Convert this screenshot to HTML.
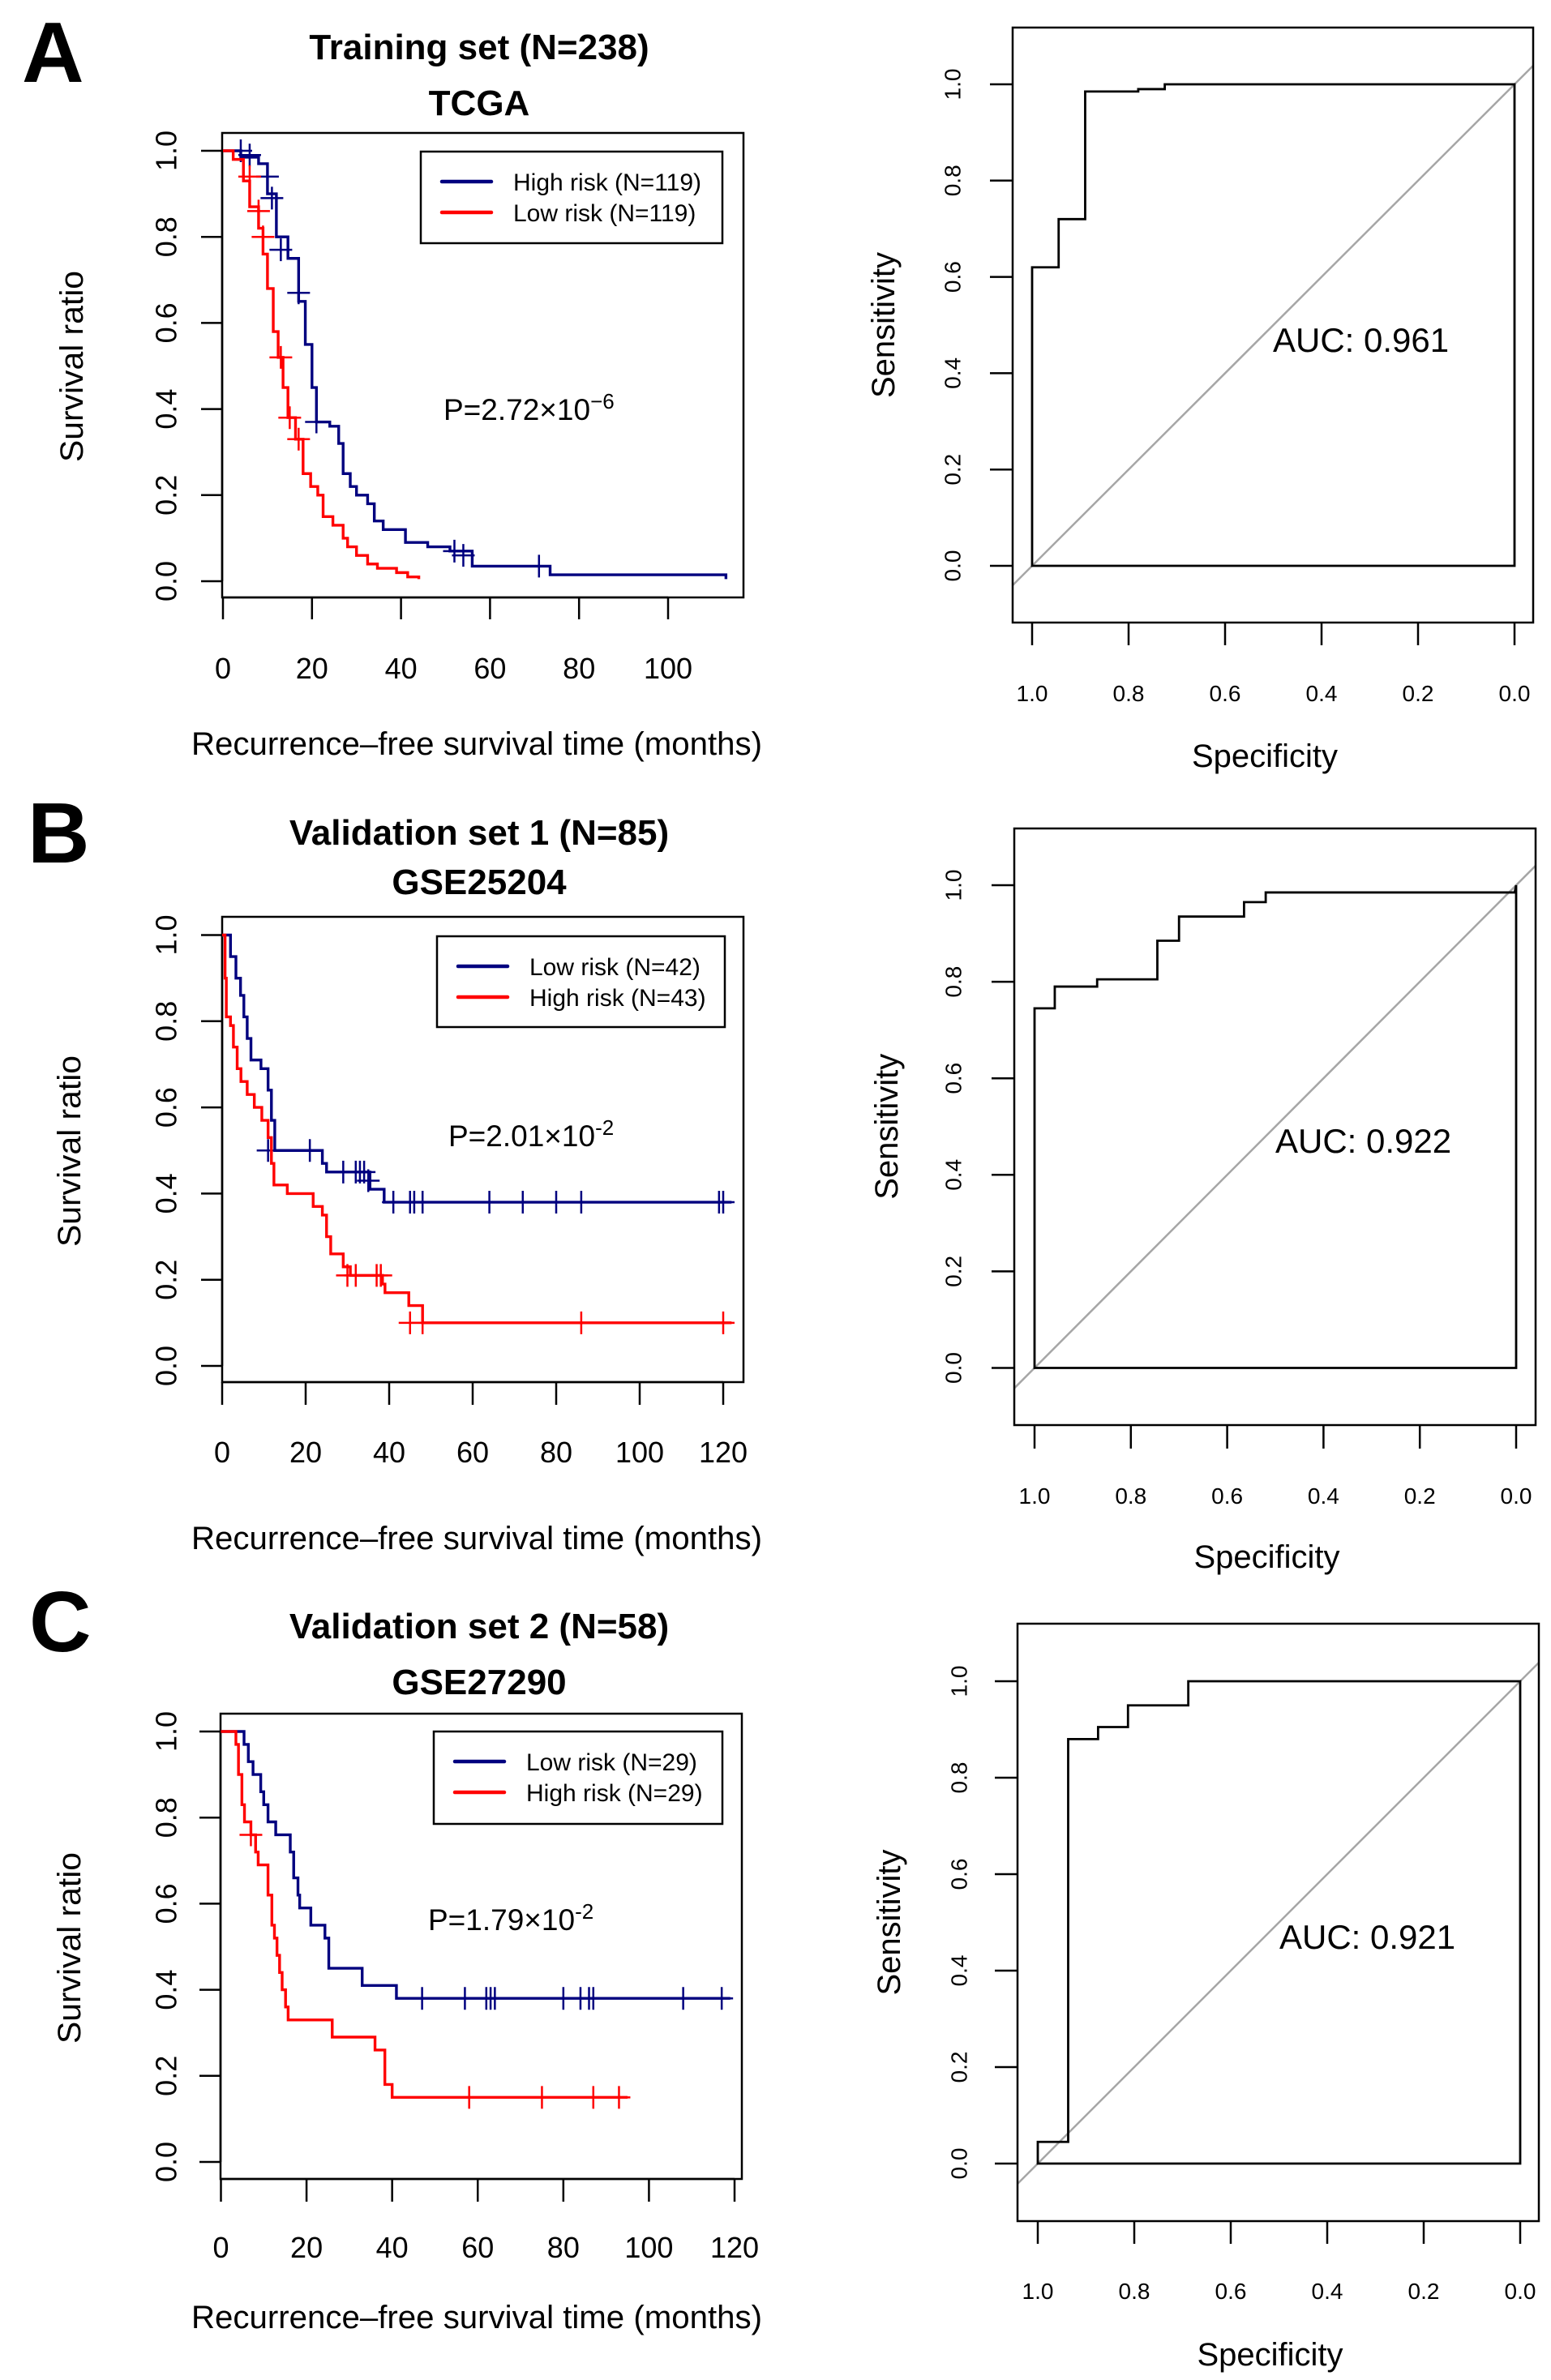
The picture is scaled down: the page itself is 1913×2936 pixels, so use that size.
<!DOCTYPE html>
<html><head><meta charset="utf-8">
<style>
html,body{margin:0;padding:0;background:#fff;}
svg{display:block;font-family:"Liberation Sans",Arial,sans-serif;}
</style></head>
<body>
<svg id="fig" xmlns="http://www.w3.org/2000/svg" width="1913" height="2936" viewBox="0 0 1913 2936">
<rect width="1913" height="2936" fill="#fff"/>
</svg>
<script>
// ---------- Data ----------
const kmA_blueT = [0,4,8,10,12,14.6,17,18.5,20,21,24,26,27,28.6,30,32.5,34,36,41,46,51,56,73.5,113];
const kmA_blueS = [1,0.985,0.97,0.9,0.8,0.75,0.65,0.55,0.45,0.37,0.36,0.32,0.25,0.22,0.2,0.18,0.14,0.12,0.09,0.08,0.07,0.035,0.015,0.005];
const kmA_blueEnd = 113;
const kmA_blueCensT = [4,6,10,11,13,17,21,52,54,71];
const kmA_blueCensS = [1.0,0.99,0.94,0.89,0.77,0.67,0.37,0.07,0.06,0.035];
const kmA_redT = [0,2.3,4.6,6,8,9,10,11.3,12.4,13.5,14.6,16.3,18,19.7,21.3,22.5,24.7,27,28,30,32.5,34.7,39,41.5,44];
const kmA_redS = [1,0.98,0.93,0.87,0.82,0.76,0.68,0.58,0.52,0.45,0.38,0.33,0.25,0.22,0.2,0.15,0.13,0.1,0.08,0.06,0.04,0.03,0.02,0.01,0.005];
const kmA_redEnd = 44;
const kmA_redCensT = [6,8,9,13,15,17];
const kmA_redCensS = [0.94,0.86,0.8,0.52,0.38,0.33];
const kmA_xTicks = [0,20,40,60,80,100];

const kmB_blueT = [0,2,3.3,4.4,5.2,6,6.9,9.3,11,11.8,12.6,24,25,35.4,38.8];
const kmB_blueS = [1,0.95,0.9,0.86,0.81,0.76,0.71,0.69,0.64,0.57,0.5,0.47,0.45,0.41,0.38];
const kmB_blueEnd = 122;
const kmB_blueCensT = [11,21,29,32,33,34,35,41,45,46,48,64,72,80,86,119,120];
const kmB_blueCensS = [0.5,0.5,0.45,0.45,0.45,0.45,0.43,0.38,0.38,0.38,0.38,0.38,0.38,0.38,0.38,0.38,0.38];
const kmB_redT = [0,0.7,1,2,2.7,3.6,4.5,6,7.7,9.5,11,11.8,12.4,15.6,21.8,24,25,26,29,30.7,38.4,39,44.7,48];
const kmB_redS = [1,0.9,0.81,0.79,0.74,0.69,0.66,0.63,0.6,0.57,0.53,0.47,0.42,0.4,0.37,0.35,0.3,0.26,0.23,0.21,0.19,0.17,0.14,0.1];
const kmB_redEnd = 122;
const kmB_redCensT = [30,32,37,38,45,48,86,120];
const kmB_redCensS = [0.21,0.21,0.21,0.21,0.1,0.1,0.1,0.1];
const kmB_xTicks = [0,20,40,60,80,100,120];

const kmC_blueT = [0,5.4,6.4,7.5,9.3,10,11,12.8,16.2,17,18,18.4,21,24.3,25.2,33,41];
const kmC_blueS = [1,0.97,0.93,0.9,0.86,0.83,0.79,0.76,0.72,0.66,0.62,0.59,0.55,0.52,0.45,0.41,0.38];
const kmC_blueEnd = 119;
const kmC_blueCensT = [47,57,62,63,64,80,84,86,87,108,117];
const kmC_blueCensS = [0.38,0.38,0.38,0.38,0.38,0.38,0.38,0.38,0.38,0.38,0.38];
const kmC_redT = [0,3.5,4.1,4.9,5.5,7,8.1,8.7,11,11.9,12.5,13.1,13.7,14.3,15.1,15.7,26,36,38.3,40];
const kmC_redS = [1,0.97,0.9,0.83,0.79,0.76,0.72,0.69,0.62,0.55,0.52,0.48,0.44,0.4,0.36,0.33,0.29,0.26,0.18,0.15];
const kmC_redEnd = 95;
const kmC_redCensT = [7,58,75,87,93];
const kmC_redCensS = [0.76,0.15,0.15,0.15,0.15];
const kmC_xTicks = [0,20,40,60,80,100,120];

const yTicks = [0,0.2,0.4,0.6,0.8,1.0];
const yTickLabels = ["0.0","0.2","0.4","0.6","0.8","1.0"];
const rocXTicks = [1.0,0.8,0.6,0.4,0.2,0.0];
const rocXTickLabels = ["1.0","0.8","0.6","0.4","0.2","0.0"];

const rocA_spec = [1,1,0.945,0.945,0.89,0.89,0.78,0.78,0.725,0.725,0];
const rocA_sens = [0,0.62,0.62,0.72,0.72,0.985,0.985,0.99,0.99,1,1];
const rocB_spec = [1,1,0.958,0.958,0.87,0.87,0.745,0.745,0.7,0.7,0.565,0.565,0.52,0.52,0.003,0];
const rocB_sens = [0,0.745,0.745,0.79,0.79,0.805,0.805,0.885,0.885,0.935,0.935,0.965,0.965,0.985,0.985,1];
const rocC_spec = [1,1,0.937,0.937,0.875,0.875,0.813,0.813,0.688,0.688,0];
const rocC_sens = [0,0.045,0.045,0.88,0.88,0.905,0.905,0.95,0.95,1,1];

// ---------- Drawing helpers ----------
const NS = "http://www.w3.org/2000/svg";
const svg = document.getElementById('fig');
function mk(tag, attrs, parent){
  const e = document.createElementNS(NS, tag);
  for (const k in attrs) e.setAttribute(k, attrs[k]);
  (parent||svg).appendChild(e);
  return e;
}
function txt(s, x, y, size, opts, parent){
  opts = opts||{};
  const t = mk('text', {x:x, y:y, 'font-size':size, fill:'#000', 'text-anchor':opts.anchor||'middle'}, parent);
  if (opts.bold) t.setAttribute('font-weight','bold');
  if (opts.rot) t.setAttribute('transform', 'rotate(-90 '+x+' '+y+')');
  if (opts.len) { t.setAttribute('textLength', opts.len); t.setAttribute('lengthAdjust','spacingAndGlyphs'); }
  if (opts.baseline) t.setAttribute('dominant-baseline', opts.baseline);
  t.textContent = s;
  return t;
}

function drawKM(p){
  const g = mk('g', {});
  
  
  const X = t => p.x0 + t * (p.xMaxPx - p.x0) / p.xMaxVal;
  const Y = s => p.y0 + (p.y1 - p.y0) * s;
  const box = mk('rect', {x:p.L, y:p.T, width:p.R-p.L, height:p.B-p.T, fill:'none', stroke:'#000', 'stroke-width':2.5}, g);
  
  
  const yax = mk('g', {}, g);
  
  
  mk('line', {x1:p.L, x2:p.L, y1:Y(0), y2:Y(1), stroke:'#000', 'stroke-width':2.5}, yax);
  yTicks.forEach((v,i)=>{
    mk('line', {x1:p.L-26, x2:p.L, y1:Y(v), y2:Y(v), stroke:'#000', 'stroke-width':2.5}, yax);
    const tl = txt(yTickLabels[i], 205, Y(v), 36, {rot:true, baseline:'central'}, yax);
    
    
  });
  const xax = mk('g', {}, g);
  
  
  const xt = p.xTicks;
  mk('line', {x1:X(xt[0]), x2:X(xt[xt.length-1]), y1:p.B, y2:p.B, stroke:'#000', 'stroke-width':2.5}, xax);
  xt.forEach(v=>{
    mk('line', {x1:X(v), x2:X(v), y1:p.B, y2:p.tickB, stroke:'#000', 'stroke-width':2.5}, xax);
    const tl = txt(String(v), X(v), p.xLabY + 13, 36, {}, xax);
    
    
  });
  const xtit = txt('Recurrence\u2013free survival time (months)', 588, p.xTitY + 14, 40, {len:704});
  
  
  const ytit = txt('Survival ratio', p.yTitX, p.yTitY, 40, {rot:true, baseline:'central', len:236});
  
  
  const t1 = txt(p.title1, 591, p.t1Y + 16, 44, {bold:true});
  
  
  const t2 = txt(p.title2, 591, p.t2Y + 16, 44, {bold:true});
  
  
  const lt = txt(p.letter, p.letX, p.letY, 106, {bold:true, anchor:'start'});
  
  
  p.series.forEach(s=>{
    let d = '';
    for (let i=0;i<s.t.length;i++){
      if (i===0) d += 'M'+X(s.t[i])+','+Y(s.s[i]);
      else d += 'H'+X(s.t[i])+'V'+Y(s.s[i]);
    }
    d += 'H'+X(s.end);
    const path = mk('path', {d:d, fill:'none', stroke:s.color, 'stroke-width':3.4}, g);
    
    
    s.ct.forEach((ct,i)=>{
      const cx = X(ct), cy = Y(s.cs[i]);
      const cm = mk('path', {d:'M'+(cx-14)+','+cy+'H'+(cx+14)+'M'+cx+','+(cy-14)+'V'+(cy+14), stroke:s.color, 'stroke-width':2.5, fill:'none'}, g);
      
      
    });
  });
  const lg = mk('g', {}, g);
  
  
  mk('rect', {x:p.leg.x, y:p.leg.y, width:p.leg.w, height:p.leg.h, fill:'#fff', stroke:'#000', 'stroke-width':2.5}, lg);
  p.leg.items.forEach((it,i)=>{
    const yy = p.leg.y + 37 + i*38;
    const e = mk('g', {}, lg);
    
    
    mk('line', {x1:p.leg.x+26, x2:p.leg.x+87, y1:yy, y2:yy, stroke:it.color, 'stroke-width':4.5, 'stroke-linecap':'round'}, e);
    txt(it.label, p.leg.x+114, yy+11, 30, {anchor:'start'}, e);
  });
  const pv = mk('text', {x:p.pX, y:p.pY+13, 'font-size':37, fill:'#000'}, g);
  
  
  pv.textContent = p.pText;
  const sup = mk('tspan', {dy:-14, 'font-size':26}, pv);
  sup.textContent = p.pExp;
}

function drawROC(p){
  const g = mk('g', {});
  
  
  const X = s => p.x0 + (p.x1 - p.x0) * s;
  const Y = v => p.y0 + (p.y1 - p.y0) * v;
  const cid = p.name + '-clip';
  const cp = mk('clipPath', {id:cid}, g);
  mk('rect', {x:p.L, y:p.T, width:p.R-p.L, height:p.B-p.T}, cp);
  const diag = mk('line', {x1:X(1.5), y1:Y(-0.5), x2:X(-0.5), y2:Y(1.5), stroke:'#a6a6a6', 'stroke-width':2.5, 'clip-path':'url(#'+cid+')'}, g);
  
  
  const box = mk('rect', {x:p.L, y:p.T, width:p.R-p.L, height:p.B-p.T, fill:'none', stroke:'#000', 'stroke-width':2.5}, g);
  
  
  let d = '';
  p.spec.forEach((s,i)=>{ d += (i?'L':'M') + X(s) + ',' + Y(p.sens[i]); });
  d += 'L'+X(0)+','+Y(0)+'Z';
  const cur = mk('path', {d:d, fill:'none', stroke:'#000', 'stroke-width':2.8}, g);
  
  
  const yax = mk('g', {}, g);
  
  
  yTicks.forEach((v,i)=>{
    mk('line', {x1:p.L-28, x2:p.L, y1:Y(v), y2:Y(v), stroke:'#000', 'stroke-width':2.5}, yax);
    const tl = txt(yTickLabels[i], p.yLabX, Y(v), 28, {rot:true, baseline:'central'}, yax);
    
    
  });
  const xax = mk('g', {}, g);
  
  
  rocXTicks.forEach((v,i)=>{
    mk('line', {x1:X(v), x2:X(v), y1:p.B, y2:p.tickB, stroke:'#000', 'stroke-width':2.5}, xax);
    const tl = txt(rocXTickLabels[i], X(v), p.xLabY + 10, 28, {}, xax);
    
    
  });
  const xt = txt('Specificity', (p.L+p.R)/2 - 10, p.xTitY + 14, 40);
  
  
  const yt = txt('Sensitivity', p.yTitX, (Y(0)+Y(1))/2, 40, {rot:true, baseline:'central'});
  
  
  const au = txt(p.auc, p.aucX, p.aucY + 15, 42, {anchor:'start'});
  
  
}

drawKM({name:'km-plot-a', L:274, R:917, T:164, B:737, x0:275, xMaxVal:100, xMaxPx:824, y0:717, y1:186,
  tickB:764, xLabY:824, xTitY:917, yTitX:89, yTitY:452, t1Y:57, t2Y:126,
  title1:'Training set (N=238)', title2:'TCGA', letter:'A', letX:27, letY:101, xTicks:kmA_xTicks,
  series:[
    {name:'high-risk-curve', color:'#00007f', t:kmA_blueT, s:kmA_blueS, end:kmA_blueEnd, ct:kmA_blueCensT, cs:kmA_blueCensS},
    {name:'low-risk-curve', color:'#ff0000', t:kmA_redT, s:kmA_redS, end:kmA_redEnd, ct:kmA_redCensT, cs:kmA_redCensS}],
  leg:{x:519, y:187, w:372, h:113, items:[{color:'#00007f',label:'High risk (N=119)'},{color:'#ff0000',label:'Low risk (N=119)'}]},
  pX:547, pY:505, pText:'P=2.72\u00d710', pExp:'\u22126'});

drawKM({name:'km-plot-b', L:274, R:917, T:1131, B:1705, x0:274, xMaxVal:120, xMaxPx:892, y0:1685, y1:1153.5,
  tickB:1733, xLabY:1791, xTitY:1897, yTitX:86, yTitY:1420, t1Y:1026, t2Y:1087,
  title1:'Validation set 1 (N=85)', title2:'GSE25204', letter:'B', letX:34, letY:1064, xTicks:kmB_xTicks,
  series:[
    {name:'low-risk-curve', color:'#00007f', t:kmB_blueT, s:kmB_blueS, end:kmB_blueEnd, ct:kmB_blueCensT, cs:kmB_blueCensS},
    {name:'high-risk-curve', color:'#ff0000', t:kmB_redT, s:kmB_redS, end:kmB_redEnd, ct:kmB_redCensT, cs:kmB_redCensS}],
  leg:{x:539, y:1155, w:355, h:112, items:[{color:'#00007f',label:'Low risk (N=42)'},{color:'#ff0000',label:'High risk (N=43)'}]},
  pX:553, pY:1401, pText:'P=2.01\u00d710', pExp:'-2'});

drawKM({name:'km-plot-c', L:272, R:915, T:2114, B:2688, x0:272.5, xMaxVal:120, xMaxPx:906, y0:2667, y1:2136,
  tickB:2716, xLabY:2772, xTitY:2858, yTitX:86, yTitY:2403, t1Y:2005, t2Y:2074,
  title1:'Validation set 2 (N=58)', title2:'GSE27290', letter:'C', letX:36, letY:2037, xTicks:kmC_xTicks,
  series:[
    {name:'low-risk-curve', color:'#00007f', t:kmC_blueT, s:kmC_blueS, end:kmC_blueEnd, ct:kmC_blueCensT, cs:kmC_blueCensS},
    {name:'high-risk-curve', color:'#ff0000', t:kmC_redT, s:kmC_redS, end:kmC_redEnd, ct:kmC_redCensT, cs:kmC_redCensS}],
  leg:{x:535, y:2136, w:356, h:114, items:[{color:'#00007f',label:'Low risk (N=29)'},{color:'#ff0000',label:'High risk (N=29)'}]},
  pX:528, pY:2368, pText:'P=1.79\u00d710', pExp:'-2'});

drawROC({name:'roc-plot-a', L:1249, R:1891, T:34, B:768, x1:1273, x0:1868, y0:698, y1:104,
  tickB:796, xLabY:855, xTitY:932, yTitX:1090, yLabX:1175, spec:rocA_spec, sens:rocA_sens,
  auc:'AUC: 0.961', aucX:1570, aucY:419});
drawROC({name:'roc-plot-b', L:1251, R:1894, T:1022, B:1758, x1:1276, x0:1870, y0:1687.5, y1:1092,
  tickB:1787, xLabY:1845, xTitY:1920, yTitX:1094, yLabX:1176, spec:rocB_spec, sens:rocB_sens,
  auc:'AUC: 0.922', aucX:1573, aucY:1407});
drawROC({name:'roc-plot-c', L:1255, R:1898, T:2003, B:2740, x1:1280, x0:1875, y0:2669, y1:2074,
  tickB:2768, xLabY:2826, xTitY:2904, yTitX:1097, yLabX:1183, spec:rocC_spec, sens:rocC_sens,
  auc:'AUC: 0.921', aucX:1578, aucY:2389});
</script>
</body></html>
